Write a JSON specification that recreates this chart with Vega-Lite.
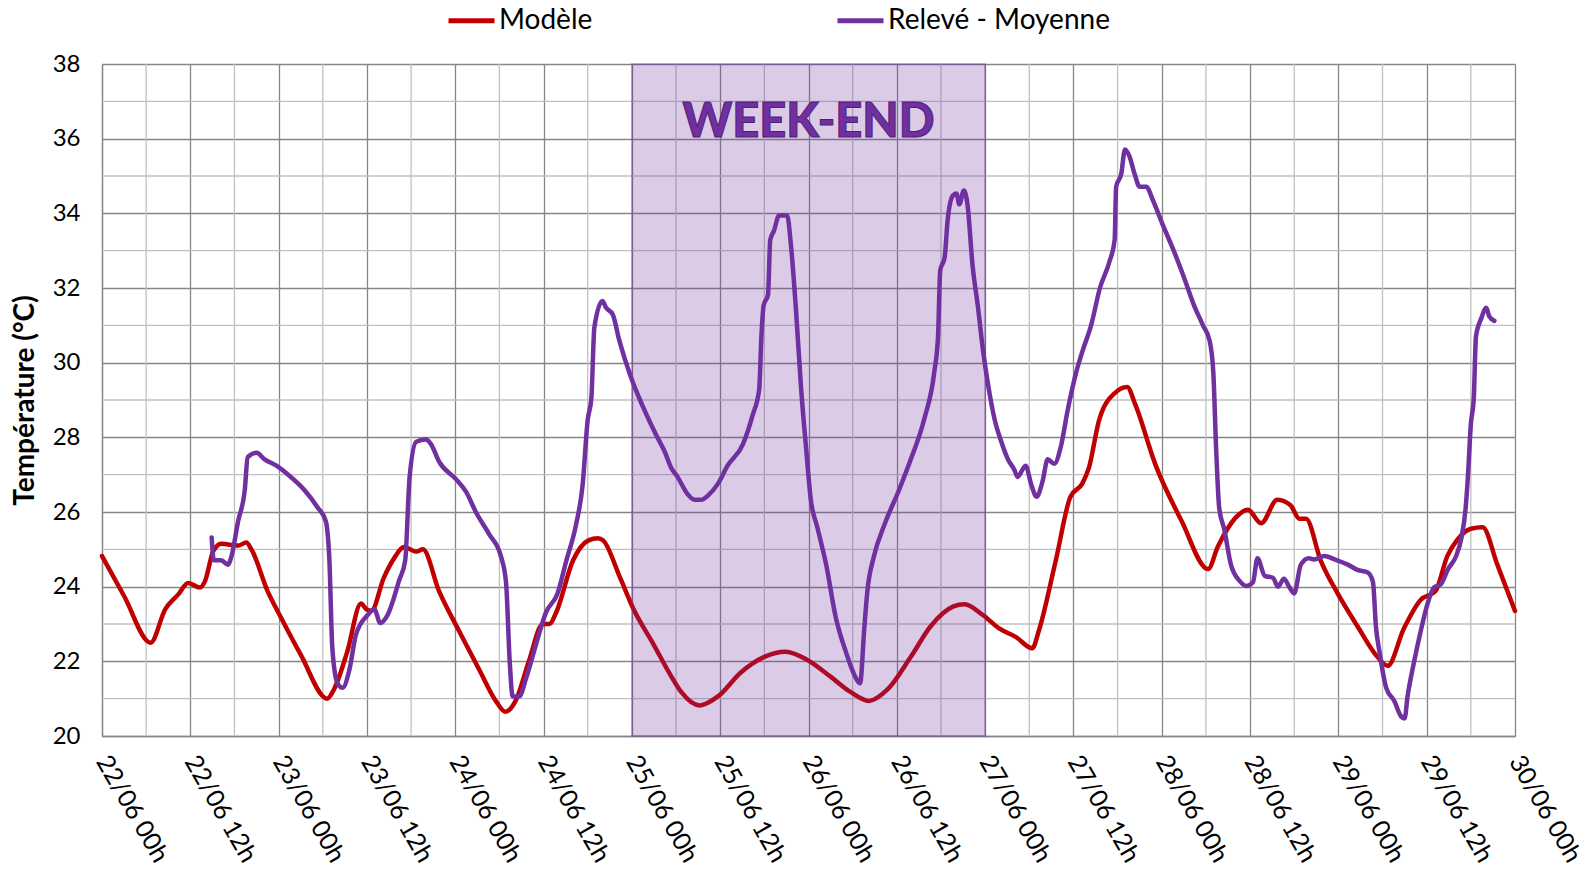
{
  "$schema": "https://vega.github.io/schema/vega-lite/v6.json",
  "autosize": "none",
  "width": 1413,
  "height": 672,
  "padding": {"left": 102, "top": 64, "right": 74, "bottom": 153},
  "background": "white",
  "config": {"view": {"stroke": null}, "font": "Lato"},
  "datasets": {
    "grilleX": [{"h": 6}, {"h": 18}, {"h": 30}, {"h": 42}, {"h": 54}, {"h": 66}, {"h": 78}, {"h": 90}, {"h": 102}, {"h": 114}, {"h": 126}, {"h": 138}, {"h": 150}, {"h": 162}, {"h": 174}, {"h": 186}],
    "grilleY": [{"t": 21}, {"t": 23}, {"t": 25}, {"t": 27}, {"t": 29}, {"t": 31}, {"t": 33}, {"t": 35}, {"t": 37}],
    "modele": [
      {"h": 0, "t": 24.82}, {"h": 3, "t": 23.75}, {"h": 6.6, "t": 22.5}, {"h": 8.6, "t": 23.4}, {"h": 10.4, "t": 23.8}, {"h": 11.7, "t": 24.1}, {"h": 13.3, "t": 23.98}, {"h": 14.0, "t": 24.15}, {"h": 15.1, "t": 24.94}, {"h": 16.2, "t": 25.15}, {"h": 18.5, "t": 25.1}, {"h": 19.6, "t": 25.18}, {"h": 20.3, "t": 25.0}, {"h": 22.5, "t": 23.88}, {"h": 24.3, "t": 23.18}, {"h": 27, "t": 22.18}, {"h": 30.6, "t": 21.0}, {"h": 31.5, "t": 21.24}, {"h": 33.3, "t": 22.24}, {"h": 35.2, "t": 23.55}, {"h": 35.9, "t": 23.4}, {"h": 36.6, "t": 23.35}, {"h": 38.3, "t": 24.24}, {"h": 39.5, "t": 24.7}, {"h": 41.1, "t": 25.06}, {"h": 42.7, "t": 24.94}, {"h": 43.6, "t": 25.0}, {"h": 45.8, "t": 23.88}, {"h": 48.5, "t": 22.82}, {"h": 51.3, "t": 21.76}, {"h": 53.5, "t": 20.94}, {"h": 54.8, "t": 20.65}, {"h": 56.2, "t": 20.94}, {"h": 58, "t": 22.0}, {"h": 59.9, "t": 23.0}, {"h": 60.8, "t": 23.0}, {"h": 61.7, "t": 23.3}, {"h": 64, "t": 24.7}, {"h": 66.1, "t": 25.24}, {"h": 67.4, "t": 25.3}, {"h": 68.1, "t": 25.24}, {"h": 70.4, "t": 24.24}, {"h": 72.2, "t": 23.41}, {"h": 74.9, "t": 22.47}, {"h": 77.2, "t": 21.65}, {"h": 78.7, "t": 21.18}, {"h": 81.2, "t": 20.82}, {"h": 83.7, "t": 21.06}, {"h": 86.8, "t": 21.7}, {"h": 90, "t": 22.12}, {"h": 92.9, "t": 22.26}, {"h": 95.9, "t": 22.03}, {"h": 99, "t": 21.59}, {"h": 101.7, "t": 21.18}, {"h": 104.2, "t": 20.94}, {"h": 106.7, "t": 21.24}, {"h": 109.9, "t": 22.12}, {"h": 112.6, "t": 22.94}, {"h": 115.7, "t": 23.47}, {"h": 117.2, "t": 23.53}, {"h": 119.7, "t": 23.24}, {"h": 121.9, "t": 22.88}, {"h": 124.2, "t": 22.65}, {"h": 126.4, "t": 22.35}, {"h": 127.3, "t": 22.82}, {"h": 129.6, "t": 24.7}, {"h": 131.6, "t": 26.41}, {"h": 133.2, "t": 26.76}, {"h": 134.1, "t": 27.18}, {"h": 135.5, "t": 28.47}, {"h": 137.7, "t": 29.2}, {"h": 139.3, "t": 29.35}, {"h": 140.4, "t": 28.88}, {"h": 143.1, "t": 27.29}, {"h": 146.7, "t": 25.76}, {"h": 150.3, "t": 24.47}, {"h": 151.6, "t": 25.06}, {"h": 154.3, "t": 25.9}, {"h": 155.7, "t": 26.06}, {"h": 157.5, "t": 25.7}, {"h": 159.7, "t": 26.33}, {"h": 161.5, "t": 26.18}, {"h": 162.7, "t": 25.82}, {"h": 163.6, "t": 25.82}, {"h": 165.6, "t": 24.7}, {"h": 167.9, "t": 23.82}, {"h": 170.6, "t": 22.94}, {"h": 173.3, "t": 22.12}, {"h": 174.7, "t": 21.88}, {"h": 176.9, "t": 22.88}, {"h": 179.2, "t": 23.65}, {"h": 181.2, "t": 23.88}, {"h": 182.8, "t": 24.82}, {"h": 184.1, "t": 25.24}, {"h": 186, "t": 25.55}, {"h": 187.6, "t": 25.59}, {"h": 189.6, "t": 24.59}, {"h": 192, "t": 23.35}
    ],
    "releve": [
      {"h": 14.9, "t": 25.32}, {"h": 15.2, "t": 24.71}, {"h": 16.2, "t": 24.71}, {"h": 17.1, "t": 24.59}, {"h": 17.6, "t": 24.82}, {"h": 18.5, "t": 25.76}, {"h": 19.4, "t": 26.59}, {"h": 19.8, "t": 27.47}, {"h": 21.0, "t": 27.59}, {"h": 22.1, "t": 27.41}, {"h": 23.7, "t": 27.24}, {"h": 25.3, "t": 27.0}, {"h": 27.5, "t": 26.59}, {"h": 29.3, "t": 26.12}, {"h": 30.4, "t": 25.76}, {"h": 30.9, "t": 24.7}, {"h": 31.3, "t": 22.35}, {"h": 32.0, "t": 21.41}, {"h": 32.7, "t": 21.29}, {"h": 33.6, "t": 21.76}, {"h": 34.5, "t": 22.71}, {"h": 36.1, "t": 23.24}, {"h": 37.0, "t": 23.4}, {"h": 37.8, "t": 23.03}, {"h": 38.8, "t": 23.24}, {"h": 40.4, "t": 24.18}, {"h": 41.2, "t": 24.7}, {"h": 41.8, "t": 26.94}, {"h": 42.7, "t": 27.88}, {"h": 44.0, "t": 27.94}, {"h": 44.7, "t": 27.82}, {"h": 45.8, "t": 27.35}, {"h": 48.1, "t": 26.88}, {"h": 49.5, "t": 26.53}, {"h": 50.8, "t": 26.0}, {"h": 52.6, "t": 25.41}, {"h": 54.2, "t": 24.82}, {"h": 54.9, "t": 24.12}, {"h": 55.4, "t": 22.0}, {"h": 55.8, "t": 21.06}, {"h": 56.7, "t": 21.06}, {"h": 57.6, "t": 21.53}, {"h": 59.0, "t": 22.47}, {"h": 60.3, "t": 23.3}, {"h": 61.9, "t": 23.82}, {"h": 63.1, "t": 24.7}, {"h": 64.4, "t": 25.65}, {"h": 65.3, "t": 26.71}, {"h": 66.0, "t": 28.47}, {"h": 66.5, "t": 29.06}, {"h": 66.9, "t": 30.94}, {"h": 68.0, "t": 31.65}, {"h": 68.5, "t": 31.47}, {"h": 69.4, "t": 31.29}, {"h": 70.3, "t": 30.59}, {"h": 71.8, "t": 29.65}, {"h": 73.5, "t": 28.82}, {"h": 75.3, "t": 28.06}, {"h": 76.5, "t": 27.6}, {"h": 77.3, "t": 27.2}, {"h": 78.2, "t": 26.94}, {"h": 79.6, "t": 26.47}, {"h": 80.5, "t": 26.33}, {"h": 81.4, "t": 26.33}, {"h": 82.5, "t": 26.47}, {"h": 83.7, "t": 26.76}, {"h": 85.0, "t": 27.24}, {"h": 87.1, "t": 27.82}, {"h": 88.4, "t": 28.59}, {"h": 89.3, "t": 29.29}, {"h": 89.6, "t": 30.7}, {"h": 89.9, "t": 31.53}, {"h": 90.5, "t": 31.82}, {"h": 90.8, "t": 33.29}, {"h": 91.3, "t": 33.53}, {"h": 92.0, "t": 33.94}, {"h": 93.1, "t": 33.94}, {"h": 93.6, "t": 33.18}, {"h": 94.3, "t": 31.41}, {"h": 95.0, "t": 29.29}, {"h": 95.7, "t": 27.65}, {"h": 96.3, "t": 26.35}, {"h": 97.2, "t": 25.59}, {"h": 98.4, "t": 24.59}, {"h": 99.7, "t": 23.18}, {"h": 101.1, "t": 22.24}, {"h": 102.5, "t": 21.53}, {"h": 103.0, "t": 21.41}, {"h": 103.6, "t": 22.94}, {"h": 104.0, "t": 23.88}, {"h": 104.9, "t": 24.82}, {"h": 106.3, "t": 25.65}, {"h": 108.3, "t": 26.59}, {"h": 109.9, "t": 27.41}, {"h": 111.7, "t": 28.47}, {"h": 113.1, "t": 29.76}, {"h": 113.6, "t": 30.7}, {"h": 113.9, "t": 32.47}, {"h": 114.5, "t": 32.82}, {"h": 114.9, "t": 33.8}, {"h": 115.6, "t": 34.47}, {"h": 116.1, "t": 34.53}, {"h": 116.5, "t": 34.24}, {"h": 117.1, "t": 34.61}, {"h": 117.6, "t": 34.24}, {"h": 118.3, "t": 32.59}, {"h": 119.0, "t": 31.53}, {"h": 119.7, "t": 30.35}, {"h": 120.4, "t": 29.41}, {"h": 121.3, "t": 28.47}, {"h": 122.2, "t": 27.88}, {"h": 123.1, "t": 27.41}, {"h": 124.0, "t": 27.12}, {"h": 124.4, "t": 26.94}, {"h": 125.5, "t": 27.24}, {"h": 126.3, "t": 26.71}, {"h": 127.0, "t": 26.41}, {"h": 127.8, "t": 26.82}, {"h": 128.5, "t": 27.41}, {"h": 129.4, "t": 27.29}, {"h": 130.3, "t": 27.76}, {"h": 131.2, "t": 28.71}, {"h": 132.4, "t": 29.76}, {"h": 133.3, "t": 30.35}, {"h": 134.4, "t": 31.0}, {"h": 135.6, "t": 32.0}, {"h": 136.9, "t": 32.71}, {"h": 137.6, "t": 33.29}, {"h": 137.8, "t": 34.71}, {"h": 138.5, "t": 35.06}, {"h": 139.0, "t": 35.71}, {"h": 139.6, "t": 35.53}, {"h": 140.3, "t": 35.06}, {"h": 141.0, "t": 34.71}, {"h": 141.9, "t": 34.71}, {"h": 142.8, "t": 34.35}, {"h": 144.1, "t": 33.71}, {"h": 145.5, "t": 33.06}, {"h": 146.9, "t": 32.35}, {"h": 148.4, "t": 31.53}, {"h": 149.6, "t": 31.0}, {"h": 150.5, "t": 30.59}, {"h": 151.0, "t": 29.76}, {"h": 151.4, "t": 27.65}, {"h": 151.8, "t": 26.12}, {"h": 152.5, "t": 25.53}, {"h": 153.4, "t": 24.59}, {"h": 154.6, "t": 24.15}, {"h": 155.5, "t": 24.02}, {"h": 156.4, "t": 24.12}, {"h": 157.0, "t": 24.76}, {"h": 158.0, "t": 24.29}, {"h": 159.1, "t": 24.24}, {"h": 159.8, "t": 24.0}, {"h": 160.6, "t": 24.21}, {"h": 161.3, "t": 24.0}, {"h": 162.0, "t": 23.82}, {"h": 162.9, "t": 24.59}, {"h": 164.0, "t": 24.76}, {"h": 164.7, "t": 24.73}, {"h": 166.1, "t": 24.82}, {"h": 167.5, "t": 24.73}, {"h": 169.3, "t": 24.59}, {"h": 170.6, "t": 24.45}, {"h": 172.0, "t": 24.38}, {"h": 172.7, "t": 24.12}, {"h": 173.1, "t": 22.94}, {"h": 173.6, "t": 22.24}, {"h": 174.5, "t": 21.29}, {"h": 175.6, "t": 20.94}, {"h": 176.5, "t": 20.53}, {"h": 177.0, "t": 20.47}, {"h": 177.4, "t": 21.06}, {"h": 178.3, "t": 22.0}, {"h": 179.2, "t": 22.82}, {"h": 180.1, "t": 23.53}, {"h": 181.0, "t": 23.98}, {"h": 181.9, "t": 24.06}, {"h": 182.9, "t": 24.47}, {"h": 184.0, "t": 24.82}, {"h": 184.7, "t": 25.29}, {"h": 185.3, "t": 26.12}, {"h": 185.6, "t": 26.94}, {"h": 186.0, "t": 28.35}, {"h": 186.4, "t": 29.06}, {"h": 186.7, "t": 30.71}, {"h": 187.4, "t": 31.18}, {"h": 188.1, "t": 31.47}, {"h": 188.5, "t": 31.24}, {"h": 189.2, "t": 31.12}
    ],
    "weekend": [{"debut": 72, "fin": 120, "bas": 20, "haut": 38, "label": "WEEK-END", "centre": 96, "niveau": 36.04}]
  },
  "encoding": {
    "x": {"field": "h", "type": "quantitative", "scale": {"domain": [0, 192], "nice": false, "zero": false},
      "axis": {"values": [0, 12, 24, 36, 48, 60, 72, 84, 96, 108, 120, 132, 144, 156, 168, 180, 192],
        "labelExpr": "(22 + floor(datum.value / 24)) + '/06 ' + (datum.value % 24 == 0 ? '00h' : '12h')",
        "title": null, "grid": true, "gridColor": "#868686", "gridWidth": 1.3, "domainColor": "#868686", "domainWidth": 1.3,
        "ticks": false, "labelAngle": 60, "labelAlign": "left", "labelBaseline": "middle", "labelPadding": 21,
        "labelFont": "Lato", "labelFontSize": 25, "labelColor": "#000000", "labelOverlap": false, "labelBound": false, "labelFlush": false}},
    "y": {"field": "t", "type": "quantitative", "scale": {"domain": [20, 38], "nice": false, "zero": false},
      "axis": {"values": [20, 22, 24, 26, 28, 30, 32, 34, 36, 38], "title": "Température (°C)",
        "grid": true, "gridColor": "#868686", "gridWidth": 1.3, "domainColor": "#868686", "domainWidth": 1.3,
        "ticks": false, "labelPadding": 22, "labelFont": "Lato", "labelFontSize": 24, "labelColor": "#000000",
        "titleFont": "Lato", "titleFontSize": 28, "titleFontWeight": "bold", "titleColor": "#000000",
        "titleX": -77, "titleY": 336, "titleAngle": -90, "titleAlign": "center", "titleBaseline": "middle"}}
  },
  "layer": [
    {"data": {"name": "grilleX"}, "mark": {"type": "rule", "color": "#C0C0C0", "strokeWidth": 1.3}, "encoding": {"x": {"field": "h", "type": "quantitative"}, "y": null}},
    {"data": {"name": "grilleY"}, "mark": {"type": "rule", "color": "#C0C0C0", "strokeWidth": 1.3}, "encoding": {"y": {"field": "t", "type": "quantitative"}, "x": null}},
    {"data": {"name": "modele"}, "mark": {"type": "line", "strokeWidth": 4.5, "strokeCap": "round", "strokeJoin": "round", "interpolate": "monotone"},
      "encoding": {"color": {"datum": "Modèle", "type": "nominal",
        "scale": {"domain": ["Modèle", "Relevé - Moyenne"], "range": ["#C00000", "#7030A0"]},
        "legend": {"orient": "none", "legendX": 344, "legendY": -69, "direction": "horizontal", "title": null,
          "symbolType": "stroke", "symbolSize": 2116, "symbolStrokeWidth": 5, "labelFont": "Lato", "labelFontSize": 28,
          "labelColor": "#000000", "labelOffset": 2, "labelLimit": 0, "columnPadding": 234}}}},
    {"data": {"name": "releve"}, "mark": {"type": "line", "strokeWidth": 4.5, "strokeCap": "round", "strokeJoin": "round", "interpolate": "monotone"},
      "encoding": {"color": {"datum": "Relevé - Moyenne", "type": "nominal"}}},
    {"data": {"name": "weekend"}, "mark": {"type": "rect", "fill": "#7030A0", "fillOpacity": 0.25, "stroke": "#7030A0", "strokeOpacity": 0.45, "strokeWidth": 1.5},
      "encoding": {"x": {"field": "debut", "type": "quantitative"}, "x2": {"field": "fin"}, "y": {"field": "bas", "type": "quantitative"}, "y2": {"field": "haut"}}},
    {"data": {"name": "weekend"}, "mark": {"type": "text", "font": "Lato", "fontSize": 47, "fontWeight": 900, "color": "#7030A0", "stroke": "#4E1F78", "strokeWidth": 1, "align": "center", "baseline": "alphabetic"},
      "encoding": {"x": {"field": "centre", "type": "quantitative"}, "y": {"field": "niveau", "type": "quantitative"}, "text": {"field": "label"}}}
  ]
}
